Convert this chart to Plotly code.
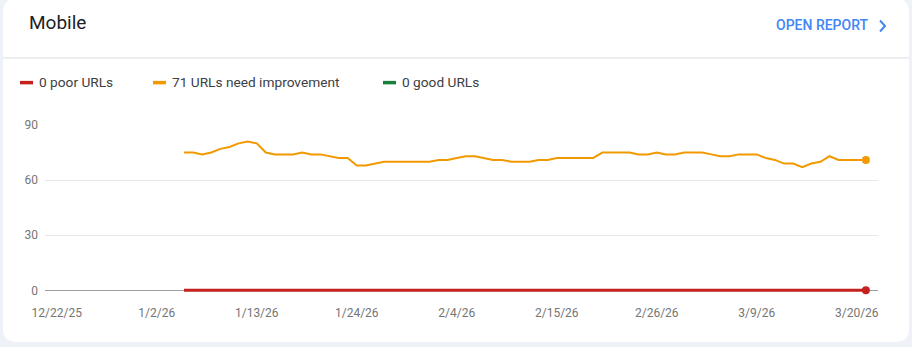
import pandas as pd
import plotly.graph_objects as go

# ---------------- data ----------------
start_date = "2026-01-05"
need_improvement = [75, 75, 74, 75, 77, 78, 80, 81, 80, 75,
                    74, 74, 74, 75, 74, 74, 73, 72, 72, 68,
                    68, 69, 70, 70, 70, 70, 70, 70, 71, 71,
                    72, 73, 73, 72, 71, 71, 70, 70, 70, 71,
                    71, 72, 72, 72, 72, 72, 75, 75, 75, 75,
                    74, 74, 75, 74, 74, 75, 75, 75, 74, 73,
                    73, 74, 74, 74, 72, 71, 69, 69, 67, 69,
                    70, 73, 71, 71, 71, 71]
poor = [0] * len(need_improvement)
good = [0] * len(need_improvement)
dates = pd.date_range(start_date, periods=len(need_improvement), freq="D")

tick_dates = ["2025-12-22", "2026-01-02", "2026-01-13", "2026-01-24", "2026-02-04",
              "2026-02-15", "2026-02-26", "2026-03-09", "2026-03-20"]
tick_labels = ["12/22/25", "1/2/26", "1/13/26", "1/24/26", "2/4/26",
               "2/15/26", "2/26/26", "3/9/26", "3/20/26"]
y_ticks = [0, 30, 60, 90]

legend_labels = ["0 poor URLs", "71 URLs need improvement", "0 good URLs"]

RED = "#c5221f"
ORANGE = "#f29900"
GREEN = "#188038"

# ---------------- layout geometry ----------------
W, H = 912, 347
Y_MIN, Y_MAX = -2, 90
PX_PER_UNIT = (290.3 - 124.7) / 90
PL, PR, PT = 45, 878, 124.7
PB = 290.3 - Y_MIN * PX_PER_UNIT  # plot bottom in px (slightly below zero line)


def px(x):
    return (x - PL) / (PR - PL)


def py(y):
    return (PB - y) / (PB - PT)


fig = go.Figure()

fig.add_trace(go.Scatter(x=dates, y=good, mode="lines",
                         line=dict(color=GREEN, width=1), hoverinfo="skip"))
fig.add_trace(go.Scatter(x=dates, y=need_improvement, mode="lines",
                         line=dict(color=ORANGE, width=2), hoverinfo="skip"))
fig.add_trace(go.Scatter(x=dates, y=poor, mode="lines",
                         line=dict(color=RED, width=3), hoverinfo="skip"))
fig.add_trace(go.Scatter(x=[dates[-1]], y=[need_improvement[-1]], mode="markers",
                         marker=dict(color=ORANGE, size=8), hoverinfo="skip", cliponaxis=False))
fig.add_trace(go.Scatter(x=[dates[-1]], y=[poor[-1]], mode="markers",
                         marker=dict(color=RED, size=8), hoverinfo="skip", cliponaxis=False))

shapes = []
# card background
x0, x1, y0, y1, r = px(3), px(909), py(-2), py(342), 14
rx = r / (PR - PL)
ry = r / (PB - PT)
path = (f"M {x0 + rx},{y0} L {x1 - rx},{y0} Q {x1},{y0} {x1},{y0 - ry} "
        f"L {x1},{y1 + ry} Q {x1},{y1} {x1 - rx},{y1} "
        f"L {x0 + rx},{y1} Q {x0},{y1} {x0},{y1 + ry} "
        f"L {x0},{y0 - ry} Q {x0},{y0} {x0 + rx},{y0} Z")
shapes.append(dict(type="path", path=path, xref="paper", yref="paper",
                   fillcolor="white", line=dict(width=0), layer="below"))
# header separator
shapes.append(dict(type="line", xref="paper", yref="paper", x0=px(3), x1=px(909),
                   y0=py(57.5), y1=py(57.5), line=dict(color="#dadce0", width=1)))
# chevron
shapes.append(dict(type="path", xref="paper", yref="paper",
                   path=f"M {px(880)},{py(20)} L {px(885)},{py(25.5)} L {px(880)},{py(31)}",
                   line=dict(color="#4285f4", width=2)))

annotations = [
    dict(text="Mobile", x=px(27), y=py(22), xref="paper", yref="paper",
         xanchor="left", yanchor="middle", showarrow=False,
         font=dict(family="Roboto", size=19, color="#202124")),
    dict(text="OPEN REPORT", x=px(871), y=py(25), xref="paper", yref="paper",
         xanchor="right", yanchor="middle", showarrow=False,
         font=dict(family="Roboto", size=14, color="#4285f4", weight=500)),
]

# legend
legend_x = [20, 153, 383]
legend_colors = [RED, ORANGE, GREEN]
for lx, lc, lt in zip(legend_x, legend_colors, legend_labels):
    shapes.append(dict(type="rect", xref="paper", yref="paper",
                       x0=px(lx), x1=px(lx + 13), y0=py(80.5), y1=py(84),
                       fillcolor=lc, line=dict(width=0)))
    annotations.append(dict(text=lt, x=px(lx + 17), y=py(82), xref="paper", yref="paper",
                            xanchor="left", yanchor="middle", showarrow=False,
                            font=dict(family="Roboto", size=13.7, color="#3c4043")))

fig.update_layout(
    width=W, height=H,
    margin=dict(l=PL, r=W - PR, t=PT, b=H - PB, pad=0),
    paper_bgcolor="#eef2f8",
    plot_bgcolor="rgba(0,0,0,0)",
    showlegend=False,
    shapes=shapes,
    annotations=annotations,
    font=dict(family="Roboto"),
)

fig.update_xaxes(
    type="date",
    range=["2025-12-20 17:00", "2026-03-22 08:00"],
    tickvals=tick_dates, ticktext=tick_labels,
    showgrid=False, showline=False, zeroline=False,
    ticks="", ticklen=0, ticklabelstandoff=10,
    tickfont=dict(family="Roboto", size=12, color="#757575"),
)
fig.update_yaxes(
    range=[Y_MIN, Y_MAX],
    tickvals=y_ticks,
    showgrid=True, gridcolor="#e8e8e8", gridwidth=1,
    zeroline=True, zerolinecolor="#9e9e9e", zerolinewidth=1,
    showline=False, ticks="", ticklabelstandoff=6,
    tickfont=dict(family="Roboto", size=12, color="#757575"),
)

fig.write_html("out.html")
